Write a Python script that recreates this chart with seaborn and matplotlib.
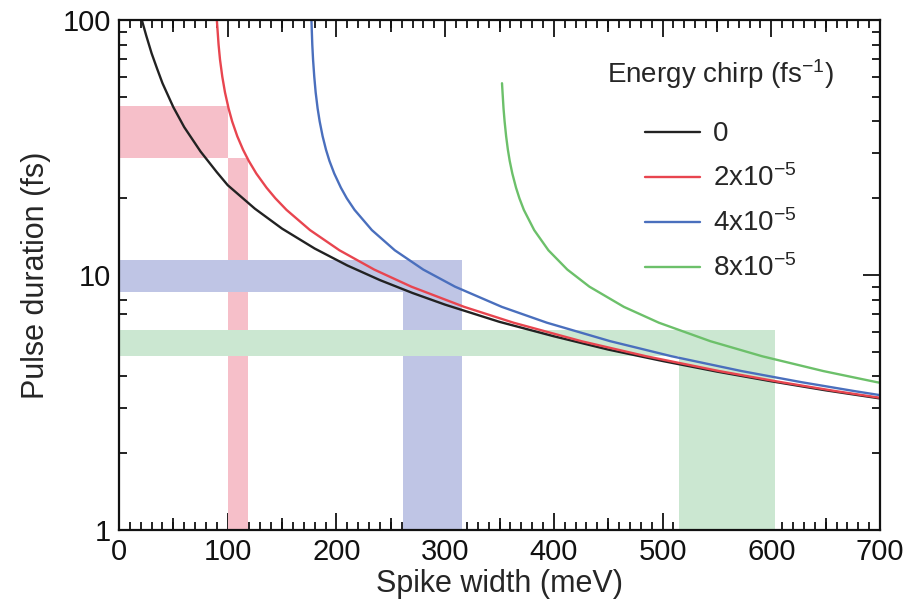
import numpy as np
import pandas as pd
import matplotlib
matplotlib.use("Agg")
import matplotlib.pyplot as plt
from matplotlib.ticker import FixedLocator, MultipleLocator, LogLocator, NullFormatter, FuncFormatter
import seaborn as sns

# ---- data ----
chirp_labels = ["0", r"2x10$\mathregular{^{-5}}$", r"4x10$\mathregular{^{-5}}$", r"8x10$\mathregular{^{-5}}$"]

black_w = [21, 25, 30, 35, 40, 50, 60, 75, 90, 100, 125, 150, 180, 210, 240, 270, 300, 350, 400, 450, 500, 550, 600, 650, 700]
black_t = [100, 87, 74, 64.5, 56.5, 45.5, 38, 30.5, 25.3, 22.5, 18.2, 15.2, 12.7, 10.9, 9.55, 8.5, 7.65, 6.55, 5.75, 5.1, 4.6, 4.18, 3.83, 3.53, 3.28]

red_w = [90.0, 91.6, 92.9, 95.0, 97.5, 100.8, 104.1, 108.8, 114.1, 119.4, 126.3, 135.7, 143.8, 154.1, 175.7, 202.8, 234.8, 268.9, 317.5, 362.9, 425.4, 485.0, 552.1, 608.9, 660.1, 700]
red_t = [100, 80, 70, 60, 52, 45, 40, 35, 31, 28, 25, 22, 20, 18, 15, 12.5, 10.5, 9, 7.5, 6.5, 5.5, 4.8, 4.2, 3.8, 3.5, 3.3]

blue_w = [177.0, 177.8, 178.5, 179.6, 180.9, 182.7, 184.6, 187.3, 190.4, 193.6, 198.0, 204.1, 209.5, 216.7, 232.6, 253.7, 279.9, 309.1, 352.1, 393.6, 451.9, 508.4, 572.7, 627.6, 677.4, 700]
blue_t = [100, 80, 70, 60, 52, 45, 40, 35, 31, 28, 25, 22, 20, 18, 15, 12.5, 10.5, 9, 7.5, 6.5, 5.5, 4.8, 4.2, 3.8, 3.5, 3.38]

green_w = [352.3, 352.8, 353.7, 354.7, 356.1, 357.7, 359.4, 361.8, 365.2, 368.3, 372.4, 381.9, 395.0, 412.4, 432.7, 464.4, 496.6, 544.0, 591.7, 647.9, 696.9, 700]
green_t = [56.5, 52, 45, 40, 35, 31, 28, 25, 22, 20, 18, 15, 12.5, 10.5, 9, 7.5, 6.5, 5.5, 4.8, 4.2, 3.8, 3.78]

# shaded bands: horizontal (x-extent, y-range) and vertical (x-range, y-extent)
band_h_x = [[0, 100], [0, 315.5], [0, 603.5]]
band_h_y = [[28.8, 46.0], [8.6, 11.45], [4.8, 6.09]]
band_v_x = [[100, 119], [261, 315.5], [515, 603.5]]
band_v_y = [[1, 28.8], [1, 8.6], [1, 4.8]]

x_ticks = [0, 100, 200, 300, 400, 500, 600, 700]
x_mid_ticks = [50, 150, 250, 350, 450, 550, 650]
y_ticks = [1, 10, 100]

line_colors = ["#222222", "#e8454f", "#4a6fbd", "#6cc06a"]
band_colors = ["#f6bfc9", "#bfc5e5", "#cbe7d1"]

frames = []
for lab, w, t in zip(chirp_labels, [black_w, red_w, blue_w, green_w], [black_t, red_t, blue_t, green_t]):
    frames.append(pd.DataFrame({"width": w, "duration": t, "chirp": lab}))
df = pd.concat(frames, ignore_index=True)

sns.set_style("ticks")
plt.rcParams["font.family"] = ["Liberation Sans", "DejaVu Sans"]
plt.rcParams["mathtext.fontset"] = "custom"
plt.rcParams["mathtext.rm"] = "Liberation Sans"

fig = plt.figure(figsize=(9.06, 6.06), dpi=100)
ax = fig.add_axes([119 / 906, 1 - 530 / 606, 761 / 906, 510 / 606])

for c, hx, hy, vx, vy in zip(band_colors, band_h_x, band_h_y, band_v_x, band_v_y):
    ax.fill_between(hx, hy[0], hy[1], color=c, lw=0, zorder=1)
    ax.fill_betweenx(vy, vx[0], vx[1], color=c, lw=0, zorder=1)

sns.lineplot(data=df, x="width", y="duration", hue="chirp", hue_order=chirp_labels,
             palette=dict(zip(chirp_labels, line_colors)), estimator=None, sort=False,
             lw=1.7, ax=ax, zorder=3)

ax.set_yscale("log")
ax.set_xlim(0, 700)
ax.set_ylim(1, 100)

ax.xaxis.set_major_locator(FixedLocator(x_ticks))
ax.xaxis.set_minor_locator(MultipleLocator(10))
ax.yaxis.set_major_locator(FixedLocator(y_ticks))
ax.yaxis.set_major_formatter(FuncFormatter(lambda v, p: f"{v:g}"))
ax.yaxis.set_minor_locator(LogLocator(base=10, subs=np.arange(2, 10)))
ax.yaxis.set_minor_formatter(NullFormatter())

ax.tick_params(which="both", direction="in", top=True, right=True, width=1.3, colors="#111111", labelsize=21)
ax.tick_params(which="major", length=12, pad=6)
ax.tick_params(which="minor", length=5.5)
for s in ax.spines.values():
    s.set_linewidth(1.6)
    s.set_color("#111111")
    s.set_zorder(5)

for loc in ["bottom", "top"]:
    sec = ax.secondary_xaxis(loc)
    sec.set_xticks(x_mid_ticks)
    sec.tick_params(direction="in", length=8.5, width=1.3, colors="#111111",
                    labelbottom=False, labeltop=False)
    sec.spines[loc].set_visible(False)

ax.set_xlabel("Spike width (meV)", fontsize=22, labelpad=2)
ax.set_ylabel("Pulse duration (fs)", fontsize=22, labelpad=8)

handles, labels = ax.get_legend_handles_labels()
leg = ax.legend(handles, labels, title=r"Energy chirp (fs$\mathregular{^{-1}}$)", frameon=False,
                fontsize=20, title_fontsize=20, loc="upper right",
                bbox_to_anchor=((848 - 119) / 761, 1 - (43 - 20) / 510),
                handlelength=2.0, handletextpad=0.45, labelspacing=0.62,
                borderpad=0, alignment="center")
leg._legend_box.sep = 22
for h in leg.get_lines():
    h.set_linewidth(1.7)

fig.savefig("out.png", dpi=100)
